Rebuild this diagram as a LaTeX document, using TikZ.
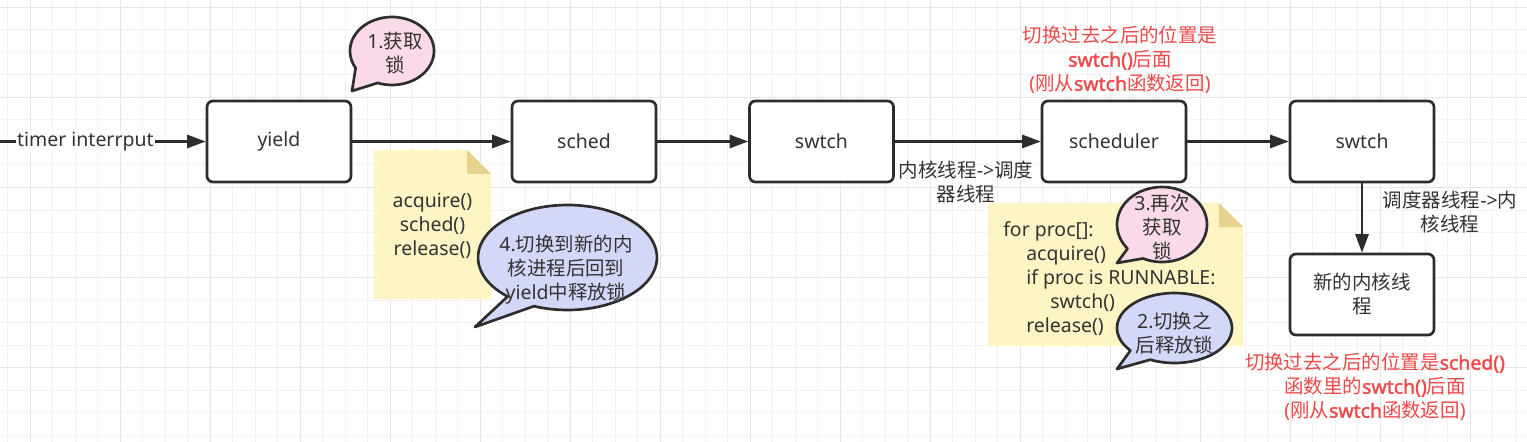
\documentclass[tikz,border=0pt]{standalone}
\usepackage{fontspec}
\setmainfont{Noto Sans}[BoldFont={Noto Sans}, BoldFeatures={FakeBold=1.6}]
\newfontfamily\cjkfont{Noto Sans CJK SC}
\newfontfamily\latinfont{Noto Sans}[BoldFont={Noto Sans}, BoldFeatures={FakeBold=1.6}]
% switch to the CJK face for Han characters
\newXeTeXintercharclass\hanclass
\count255="4E00
\loop\XeTeXcharclass\count255=\hanclass\advance\count255 by 1 \ifnum\count255<"A000 \repeat
\XeTeXinterchartoks 0 \hanclass = {\cjkfont}
\XeTeXinterchartoks 4095 \hanclass = {\cjkfont}
\XeTeXinterchartoks \hanclass 0 = {\latinfont}
\XeTeXinterchartoks \hanclass 4095 = {\latinfont}
\XeTeXinterchartokenstate=1
\usetikzlibrary{arrows.meta,calc}

\definecolor{boxline}{RGB}{45,45,45}
\definecolor{textgray}{RGB}{51,51,51}
\definecolor{notefill}{RGB}{255,244,195}
\definecolor{notefold}{RGB}{229,210,140}
\definecolor{pinkfill}{RGB}{250,218,232}
\definecolor{bluefill}{RGB}{212,216,248}
\definecolor{warnred}{RGB}{238,72,72}
\definecolor{gridminor}{RGB}{242,242,242}
\definecolor{gridmajor}{RGB}{230,230,230}

\tikzset{
  procbox/.style={draw=boxline, line width=2pt, rounded corners=4.5pt, fill=white,
    minimum width=108pt, minimum height=60.75pt, align=center, inner sep=2pt},
  flow/.style={draw=boxline, line width=1.6pt, -{Triangle[length=14pt,width=10pt]}},
  bubbleline/.style={draw=boxline, line width=2pt, line join=round},
  redlabel/.style={text=warnred, align=center, inner sep=0pt},
  plainlabel/.style={align=center, inner sep=0pt}
}

\begin{document}
\begin{tikzpicture}[x=0.75pt,y=0.75pt,yscale=-1,xscale=1,
  font=\fontsize{14.6}{18}\selectfont, text=textgray]
\useasboundingbox (0,0) rectangle (1527,442);

%Grid
\foreach \gx in {0,...,67} \draw[gridminor, line width=0.75pt] ({7.5+22.5*\gx},0) -- ({7.5+22.5*\gx},442);
\foreach \gy in {0,...,19} \draw[gridminor, line width=0.75pt] (0,{7.5+22.5*\gy}) -- (1527,{7.5+22.5*\gy});
\foreach \gx in {0,...,16} \draw[gridmajor, line width=0.75pt] ({30+90*\gx},0) -- ({30+90*\gx},442);
\foreach \gy in {0,...,4} \draw[gridmajor, line width=0.75pt] (0,{7.5+90*\gy}) -- (1527,{7.5+90*\gy});

%Shape: Note [yield code]
\fill[notefill] (374,150) -- (467,150) -- (491,174) -- (491,299) -- (374,299) -- cycle;
\fill[notefold] (467,150) -- (467,174) -- (491,174) -- cycle;
%Shape: Note [scheduler code]
\fill[notefill] (988,203) -- (1219,203) -- (1243,227) -- (1243,346) -- (988,346) -- cycle;
\fill[notefold] (1219,203) -- (1219,227) -- (1243,227) -- cycle;

%Boxes
\node[procbox] (yield) at (279,141.5) {yield};
\node[procbox] (sched) at (584,141.5) {sched};
\node[procbox] (swtchA) at (821.5,141.5) {swtch};
\node[procbox] (scheduler) at (1114,141.5) {scheduler};
\node[procbox] (swtchB) at (1362,141.5) {swtch};
\node[procbox] (newthread) at (1362,294.5) {新的内核线\\程};

%Arrows
\coordinate (timerstart) at (0,141.5);
\draw[flow] (timerstart) -- (yield) node[pos=0.415, fill=white, inner sep=1pt] (timerlbl) {timer interrput};
\draw[flow] (yield) -- (sched);
\draw[flow] (sched) -- (swtchA);
\draw[flow] (swtchA) -- (scheduler);
\draw[flow] (scheduler) -- (swtchB);
\draw[flow] (swtchB) -- (newthread);

% Text Node
\node[plainlabel] (kernel2sched) at (966,182) {内核线程->调度\\器线程};
% Text Node
\node[plainlabel] (sched2kernel) at (1450,212) {调度器线程->内\\核线程};
% Text Node
\node[plainlabel] (yieldcode) at (432.5,226) {acquire()\\sched()\\release()};
% Text Node
\node[plainlabel, align=left, anchor=west] (schedcode) at (1003,278.5)
  {for proc[]:\\\hspace*{17.25pt}acquire()\\\hspace*{17.25pt}if proc is RUNNABLE:\\\hspace*{35.25pt}swtch()\\\hspace*{17.25pt}release()};

%Shape: Callout [1]
\draw[bubbleline, fill=pinkfill] (352,91) -- ($(392,51)+(150:42 and 34)$)
  arc[start angle=150, end angle=470, x radius=42, y radius=34] -- cycle;
%Shape: Callout [4]
\draw[bubbleline, fill=bluefill] (475,327) -- ($(567.5,257.5)+(132:89.5 and 52.5)$)
  arc[start angle=132, end angle=472, x radius=89.5, y radius=52.5] -- cycle;
%Shape: Callout [3]
\draw[bubbleline, fill=pinkfill] (1117,263) -- ($(1162,224.5)+(140:45 and 37.5)$)
  arc[start angle=140, end angle=475, x radius=45, y radius=37.5] -- cycle;
%Shape: Callout [2]
\draw[bubbleline, fill=bluefill] (1117,369) -- ($(1174.5,328)+(140:57.5 and 35)$)
  arc[start angle=140, end angle=475, x radius=57.5, y radius=35] -- cycle;

% Text Node
\node[plainlabel] (lockA) at (395,53) {1.获取\\锁};
% Text Node
\node[plainlabel] (releaseA) at (566,270) {4.切换到新的内\\核进程后回到\\yield中释放锁};
% Text Node
\node[plainlabel] (lockB) at (1162,227) {3.再次\\获取\\锁};
% Text Node
\node[plainlabel] (releaseB) at (1174.5,333) {2.切换之\\后释放锁};

% Text Node
\node[redlabel] (afterswtch) at (1120,60)
  {切换过去之后的位置是\\\textbf{swtch()}后面\\(刚从\textbf{swtch}函数返回)};
% Text Node
\node[redlabel] (aftersched) at (1375,387)
  {切换过去之后的位置是\textbf{sched()}\\函数里的\textbf{swtch()}后面\\(刚从\textbf{swtch}函数返回)};

\end{tikzpicture}
\end{document}
